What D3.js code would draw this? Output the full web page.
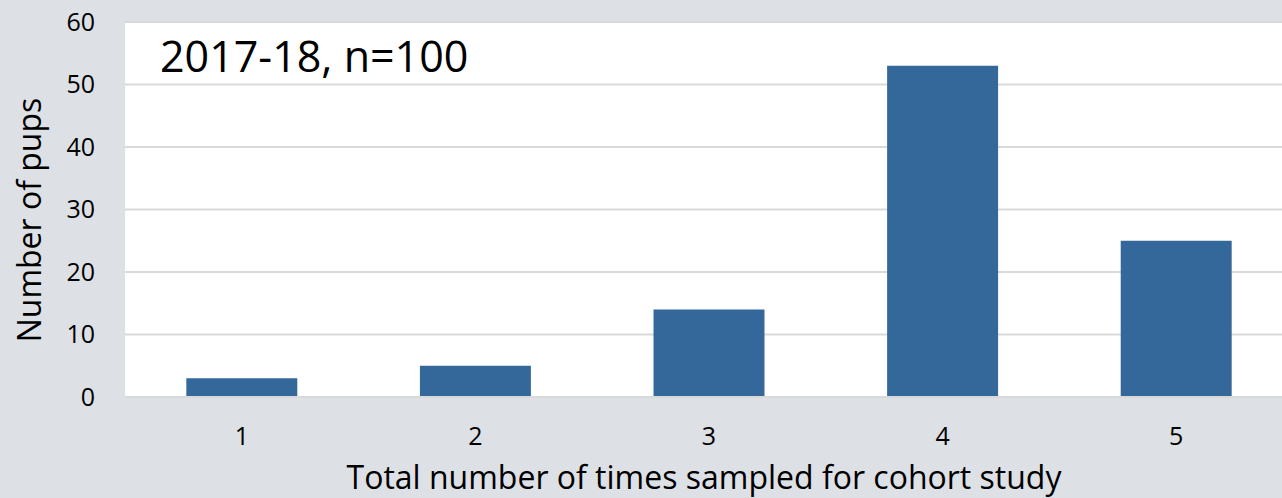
<!DOCTYPE html>
<html><head><meta charset="utf-8">
<script src="https://cdn.jsdelivr.net/npm/d3@7"></script>
<style>body{margin:0;background:#dde0e5;} svg{display:block;}</style>
</head><body>
<svg id="c" width="1282" height="498"></svg>
<script>
const categories = ["1","2","3","4","5"];
const values = [3,5,14,53,25];
const yTicks = [0,10,20,30,40,50,60];
const titleText = "2017-18, n=100";
const xTitle = "Total number of times sampled for cohort study";
const yTitle = "Number of pups";

(function(){
const svg = d3.select("#c");
const W = 1282, H = 498;
const mLeft = 125, mRight = 1293, mTop = 22, mBottom = 397;
const font = "'Open Sans', sans-serif";

svg.append("rect").attr("width", W).attr("height", H).attr("fill", "#dde0e5");
svg.append("rect").attr("x", mLeft).attr("y", mTop).attr("width", W - mLeft).attr("height", mBottom - mTop).attr("fill", "#fff");

const x = d3.scaleBand().domain(categories).range([mLeft, mRight]).paddingInner(0.525).paddingOuter(0.2625);
const y = d3.scaleLinear().domain([0, 60]).range([mBottom, mTop]);

svg.append("g").selectAll("line").data(yTicks.filter(d => d > 0)).join("line")
  .attr("x1", mLeft).attr("x2", W).attr("y1", d => y(d)).attr("y2", d => y(d))
  .attr("stroke", "#d9d9d9").attr("stroke-width", 2);

svg.append("g").selectAll("rect").data(values).join("rect")
  .attr("x", (d, i) => x(categories[i])).attr("width", x.bandwidth())
  .attr("y", d => y(d)).attr("height", d => y(0) - y(d))
  .attr("fill", "#34679a");

svg.append("line").attr("x1", mLeft).attr("x2", W).attr("y1", y(0)).attr("y2", y(0))
  .attr("stroke", "#d9d9d9").attr("stroke-width", 2);

const yAxis = svg.append("g").attr("transform", `translate(${mLeft},0)`)
  .call(d3.axisLeft(y).tickValues(yTicks).tickSize(0).tickPadding(30));
yAxis.select(".domain").remove();
yAxis.selectAll("text").attr("font-family", font).attr("font-size", 25).attr("fill", "#000");

const xAxis = svg.append("g").attr("transform", `translate(0,${mBottom})`)
  .call(d3.axisBottom(x).tickSize(0).tickPadding(30));
xAxis.select(".domain").remove();
xAxis.selectAll("text").attr("font-family", font).attr("font-size", 25).attr("fill", "#000");

svg.append("text").attr("x", 160).attr("y", 72).attr("font-family", font).attr("font-size", 43).attr("fill", "#000").text(titleText);

svg.append("text").attr("x", 704).attr("y", 489).attr("text-anchor", "middle").attr("font-family", font).attr("font-size", 32).attr("fill", "#000").text(xTitle);

svg.append("text").attr("transform", "translate(41,220) rotate(-90)").attr("text-anchor", "middle").attr("font-family", font).attr("font-size", 32).attr("fill", "#000").text(yTitle);
})();
</script>
</body></html>
